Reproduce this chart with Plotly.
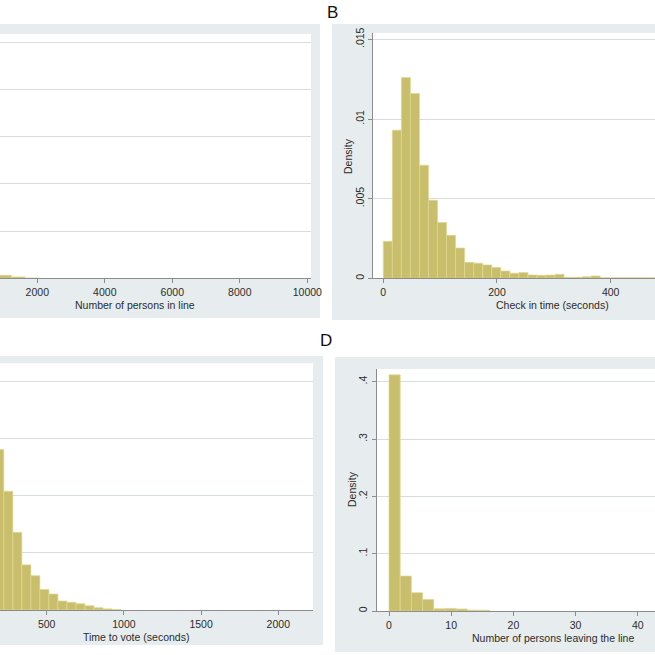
import plotly.graph_objects as go

W = H = 655

# ---------------- data ----------------
# Panel A: Number of persons in line (histogram, density)
a_bin_start = 0
a_bin_width = 410
a_density = [0.00225, 0.00014, 0.000032, 0.000015, 0.0000025]
a_yticks = [0, 0.0005, 0.001, 0.0015, 0.002, 0.0025]
a_xticks = [0, 2000, 4000, 6000, 8000, 10000]
a_xtext = ["0", "2000", "4000", "6000", "8000", "10000"]

# Panel B: Check in time (seconds)
b_bin_start = 0
b_bin_width = 15.9
b_density = [0.00232, 0.0093, 0.0126, 0.0116, 0.0071, 0.0049, 0.0035, 0.0027,
             0.0019, 0.0010, 0.00095, 0.00084, 0.00068, 0.00046, 0.00032,
             0.00036, 0.00021, 0.00019, 0.00020, 0.00025, 0.00006, 0.00006,
             0.00010, 0.00015, 0.00004, 0.00004, 0.00003, 0.00004, 0.00003,
             0.00003, 0.00002]
b_yticks = [0, 0.005, 0.01, 0.015]
b_ytext = ["0", ".005", ".01", ".015"]
b_xticks = [0, 200, 400, 600]

# Panel C: Time to vote (seconds)
c_bin_start = 47
c_bin_width = 58.4
c_density = [0.0039, 0.0042, 0.00281, 0.00208, 0.00136, 0.00079, 0.00060,
             0.00036, 0.00028, 0.000158, 0.000135, 0.00011, 0.000075,
             0.00004, 0.00002, 0.00001]
c_yticks = [0, 0.001, 0.002, 0.003, 0.004]
c_xticks = [0, 500, 1000, 1500, 2000]

# Panel D: Number of persons leaving the line
d_bin_start = 0
d_bin_width = 1.8
d_density = [0.412, 0.061, 0.032, 0.020, 0.004, 0.0045, 0.0035, 0.0015, 0.0012]
d_yticks = [0, 0.1, 0.2, 0.3, 0.4]
d_ytext = ["0", ".1", ".2", ".3", ".4"]
d_xticks = [0, 10, 20, 30, 40]

# ---------------- style ----------------
FONT = "Liberation Sans, Arial, sans-serif"
TXT = "#2b2b2b"
BAR = "#c9be6b"
BAR_LINE = "#e0d894"
REGION = "#e7edee"
GRID = "#d6dddf"
AXIS = "#8c8c8c"
TICK_SIZE = 10.5
TITLE_SIZE = 10.5


def fx(px):
    return px / W


def fy(py):
    return 1 - py / H


def centers(start, width, n):
    return [start + width * (i + 0.5) for i in range(n)]


fig = go.Figure()

panels = [
    ("x", "y", a_bin_start, a_bin_width, a_density),
    ("x2", "y2", b_bin_start, b_bin_width, b_density),
    ("x3", "y3", c_bin_start, c_bin_width, c_density),
    ("x4", "y4", d_bin_start, d_bin_width, d_density),
]
for xa, ya, s, w, d in panels:
    fig.add_trace(go.Bar(
        x=centers(s, w, len(d)), y=d, width=w,
        marker=dict(color=BAR, line=dict(color=BAR_LINE, width=0.7)),
        xaxis=xa, yaxis=ya, showlegend=False, hoverinfo="skip"))

xcommon = dict(showgrid=False, zeroline=False, showline=True, linecolor=AXIS,
               linewidth=1, ticks="outside", ticklen=4, tickcolor=AXIS,
               tickfont=dict(family=FONT, size=TICK_SIZE, color=TXT), automargin=False,
               fixedrange=True)
ycommon = dict(showgrid=True, gridcolor=GRID, gridwidth=1, zeroline=False,
               automargin=False, fixedrange=True,
               tickfont=dict(family=FONT, size=TICK_SIZE, color=TXT))

layout = dict(
    width=W, height=H, margin=dict(l=0, r=0, t=0, b=0),
    paper_bgcolor="white", plot_bgcolor="rgba(0,0,0,0)",
    bargap=0, showlegend=False,
    font=dict(family=FONT, size=10, color=TXT),
)

# Panel A (cropped on the left)
layout["xaxis"] = dict(xcommon, domain=[fx(0), fx(311)], range=[895, 10110],
                       tickvals=a_xticks, ticktext=a_xtext, anchor="y")
layout["yaxis"] = dict(ycommon, domain=[fy(278.3), fy(34)], range=[0, 0.002585],
                       tickvals=a_yticks, showticklabels=False, ticks="",
                       showline=False, anchor="x")
# Panel B
layout["xaxis2"] = dict(xcommon, domain=[fx(373), 1], range=[-18.1, 478],
                        tickvals=b_xticks, anchor="y2")
layout["yaxis2"] = dict(ycommon, domain=[fy(278.3), fy(33)], range=[0, 0.0154],
                        tickvals=b_yticks, ticktext=b_ytext, tickangle=-90,
                        showline=True, linecolor=AXIS, linewidth=1,
                        ticks="outside", ticklen=4, tickcolor=AXIS, anchor="x2")
# Panel C (cropped on the left)
layout["xaxis3"] = dict(xcommon, domain=[fx(0), fx(313)], range=[197.5, 2224.8],
                        tickvals=c_xticks, anchor="y3")
layout["yaxis3"] = dict(ycommon, domain=[fy(610), fy(363.3)], range=[0, 0.00432],
                        tickvals=c_yticks, showticklabels=False, ticks="",
                        showline=False, anchor="x3")
# Panel D
layout["xaxis4"] = dict(xcommon, domain=[fx(376.5), 1], range=[-2.01, 42.77],
                        tickvals=d_xticks, anchor="y4")
layout["yaxis4"] = dict(ycommon, domain=[fy(611), fy(369)], range=[0, 0.4222],
                        tickvals=d_yticks, ticktext=d_ytext, tickangle=-90,
                        showline=True, linecolor=AXIS, linewidth=1,
                        ticks="outside", ticklen=4, tickcolor=AXIS, anchor="x4")

fig.update_layout(**layout)

# graph regions (light bluish gray) and white plot regions
regions = [(0, 24, 320, 318), (332, 24, 655, 320), (0, 356, 323, 645), (335, 357, 655, 652)]
plots = [(0, 34, 311, 278.3), (373, 33, 655, 278.3), (0, 363.3, 313, 610), (376.5, 369, 655, 611)]
shapes = []
for x0, y0, x1, y1 in regions:
    shapes.append(dict(type="rect", xref="paper", yref="paper", x0=fx(x0), x1=fx(x1),
                       y0=fy(y1), y1=fy(y0), fillcolor=REGION, line=dict(width=0),
                       layer="below"))
for x0, y0, x1, y1 in plots:
    shapes.append(dict(type="rect", xref="paper", yref="paper", x0=fx(x0), x1=fx(x1),
                       y0=fy(y1), y1=fy(y0), fillcolor="white", line=dict(width=0),
                       layer="below"))
fig.update_layout(shapes=shapes)

# axis titles and panel letters
texts = [
    ("Number of persons in line", 135, 304.5, 0, TITLE_SIZE),
    ("Check in time (seconds)", 552, 304.5, 0, TITLE_SIZE),
    ("Time to vote (seconds)", 136, 636.5, 0, TITLE_SIZE),
    ("Number of persons leaving the line", 553, 637.5, 0, TITLE_SIZE),
    ("Density", 348, 156, -90, TITLE_SIZE),
    ("Density", 352, 489, -90, TITLE_SIZE),
    ("B", 332, 12, 0, 17),
    ("D", 326, 340, 0, 17),
]
for t, px, py, ang, sz in texts:
    fig.add_annotation(text=t, x=fx(px), y=fy(py), xref="paper", yref="paper",
                       showarrow=False, textangle=ang, xanchor="center", yanchor="middle",
                       font=dict(family=FONT, size=sz, color="#111" if sz > 12 else TXT))

fig.write_html("out.html", config={"displayModeBar": False, "staticPlot": True},
               post_script="document.body.style.margin='0px';document.body.style.overflow='hidden';")
